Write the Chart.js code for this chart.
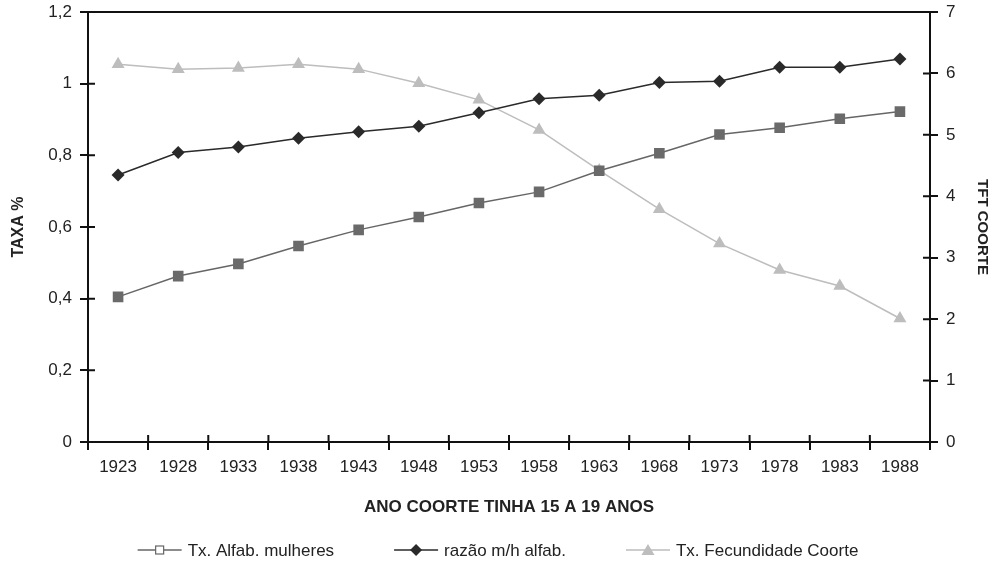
<!DOCTYPE html>
<html><head><meta charset="utf-8">
<script src="https://cdn.jsdelivr.net/npm/chart.js@4.4.0/dist/chart.umd.min.js"></script>
<style>html,body{margin:0;padding:0;background:#fff}#wrap{width:995px;height:566px}</style>
</head><body><div id="wrap"><canvas id="c" width="995" height="566"></canvas></div>
<script>
const categories = ['1923','1928','1933','1938','1943','1948','1953','1958','1963','1968','1973','1978','1983','1988'];
const alfabMulheres = [0.405,0.463,0.497,0.547,0.592,0.628,0.667,0.698,0.757,0.806,0.858,0.877,0.902,0.922];
const razaoMH = [0.745,0.808,0.823,0.848,0.866,0.881,0.919,0.958,0.968,1.003,1.007,1.046,1.046,1.069];
const fecundidade = [6.15,6.07,6.09,6.15,6.07,5.84,5.57,5.08,4.42,3.79,3.23,2.80,2.54,2.01];
const leftTicks = [0,0.2,0.4,0.6,0.8,1,1.2];
const rightTicks = [0,1,2,3,4,5,6,7];

const FONT = "'Liberation Sans', Arial, sans-serif";
const TICK_SIZE = 17;

function drawMarker(g, kind, x, y, fill, stroke){
  g.save();
  if(kind==='rect'){ g.fillStyle='#fff'; g.strokeStyle=stroke; g.lineWidth=1.2; g.fillRect(x-4,y-4,8,8); g.strokeRect(x-4,y-4,8,8); }
  else if(kind==='diamond'){ g.fillStyle=fill; g.beginPath(); g.moveTo(x,y-6); g.lineTo(x+6,y); g.lineTo(x,y+6); g.lineTo(x-6,y); g.closePath(); g.fill(); }
  else { g.fillStyle=fill; g.beginPath(); g.moveTo(x,y-6); g.lineTo(x+6.5,y+5); g.lineTo(x-6.5,y+5); g.closePath(); g.fill(); }
  g.restore();
}

const customLegend = {
  id:'customLegend',
  afterDraw(chart){
    const ctx = chart.ctx;
    const items = chart.data.datasets.map((d,i)=>({text:d.label, kind:['rect','diamond','tri'][i], color:d.borderColor, fill:d.backgroundColor}));
    ctx.save();
    ctx.font = "17px " + FONT;
    const iconW = 44, gapText = 6, gapItem = 60;
    const widths = items.map(it => iconW + gapText + ctx.measureText(it.text).width);
    const total = widths.reduce((a,b)=>a+b,0) + gapItem*(items.length-1);
    let x = 498 - total/2;
    const y = 550;
    items.forEach((it,i)=>{
      ctx.strokeStyle = it.color; ctx.lineWidth = 1.5;
      ctx.beginPath(); ctx.moveTo(x, y); ctx.lineTo(x+iconW, y); ctx.stroke();
      drawMarker(ctx, it.kind, x+iconW/2, y, it.fill, it.color);
      ctx.fillStyle = '#222'; ctx.textBaseline='middle'; ctx.textAlign='left';
      ctx.fillText(it.text, x+iconW+gapText, y+1);
      x += widths[i] + gapItem;
    });
    ctx.restore();
  }
};

const crossTicks = {
  id:'crossTicks',
  afterDraw(chart){
    const ctx = chart.ctx, a = chart.chartArea;
    ctx.save();
    ctx.strokeStyle = '#111'; ctx.lineWidth = 2;
    ctx.beginPath(); ctx.moveTo(a.left-1, a.top); ctx.lineTo(a.right+1, a.top); ctx.stroke();
    const y = chart.scales.y, y1 = chart.scales.y1;
    ctx.beginPath();
    y.ticks.forEach((t,i)=>{ const p = y.getPixelForTick(i); ctx.moveTo(a.left, p); ctx.lineTo(a.left+7, p); });
    y1.ticks.forEach((t,i)=>{ const p = y1.getPixelForTick(i); ctx.moveTo(a.right, p); ctx.lineTo(a.right-7, p); });
    for(let i=0;i<=categories.length;i++){
      const p = a.left + (a.right-a.left)*i/categories.length;
      ctx.moveTo(p, a.bottom); ctx.lineTo(p, a.bottom-7);
    }
    ctx.stroke();
    ctx.restore();
  }
};

new Chart(document.getElementById('c'), {
  type:'line',
  data:{
    labels: categories,
    datasets:[
      {label:'Tx. Alfab. mulheres', data: alfabMulheres, yAxisID:'y', borderColor:'#666', backgroundColor:'#6a6a6a', borderWidth:1.5, pointStyle:'rect', pointRadius:7.5, pointBorderWidth:0, tension:0},
      {label:'razão m/h alfab.', data: razaoMH, yAxisID:'y', borderColor:'#2a2a2a', backgroundColor:'#2a2a2a', borderWidth:1.5, pointStyle:'rectRot', pointRadius:6.5, pointBorderWidth:0, tension:0},
      {label:'Tx. Fecundidade Coorte', data: fecundidade, yAxisID:'y1', borderColor:'#bdbdbd', backgroundColor:'#bdbdbd', borderWidth:1.5, pointStyle:'triangle', pointRadius:7.5, pointBorderWidth:0, tension:0}
    ]
  },
  options:{
    responsive:false, animation:false, devicePixelRatio:1,
    layout:{padding:{top:12,left:0,right:0,bottom:40}},
    plugins:{ tooltip:{enabled:false}, legend:{display:false} },
    scales:{
      x:{
        offset:true,
        grid:{display:true, offset:true, drawOnChartArea:false, color:'#111', lineWidth:2, tickLength:8, tickColor:'#111'},
        border:{display:true, color:'#111', width:2},
        ticks:{font:{family:FONT,size:TICK_SIZE}, color:'#222', padding:7, maxRotation:0, autoSkip:false},
        title:{display:true, text:'ANO COORTE TINHA 15 A 19 ANOS', font:{family:FONT,size:17,weight:'bold'}, color:'#222', padding:{top:10,bottom:8}},
        afterFit(s){ s.height = 84; s.paddingLeft = 0; s.paddingRight = 0; }
      },
      y:{
        position:'left', min:0, max:1.2,
        afterBuildTicks(s){ s.ticks = leftTicks.map(v=>({value:v})); },
        grid:{drawOnChartArea:false, color:'#111', lineWidth:2, tickLength:8, tickColor:'#111'},
        border:{display:true, color:'#111', width:2},
        ticks:{font:{family:FONT,size:TICK_SIZE}, color:'#222', padding:8, callback:(v)=>String(Math.round(v*10)/10).replace('.',',')},
        title:{display:true, text:'TAXA %', font:{family:FONT,size:16,weight:'bold'}, color:'#222', padding:{top:9,bottom:0}},
        afterFit(s){ s.width = 88; s.paddingTop = 0; s.paddingBottom = 0; }
      },
      y1:{
        position:'right', min:0, max:7,
        afterBuildTicks(s){ s.ticks = rightTicks.map(v=>({value:v})); },
        grid:{drawOnChartArea:false, color:'#111', lineWidth:2, tickLength:8, tickColor:'#111'},
        border:{display:true, color:'#111', width:2},
        ticks:{font:{family:FONT,size:TICK_SIZE}, color:'#222', padding:8},
        title:{display:true, text:'TFT COORTE', font:{family:FONT,size:15,weight:'bold'}, color:'#222', padding:{top:4,bottom:0}},
        afterFit(s){ s.width = 65; s.paddingTop = 0; s.paddingBottom = 0; }
      }
    }
  },
  plugins:[crossTicks, customLegend]
});
</script></body></html>
